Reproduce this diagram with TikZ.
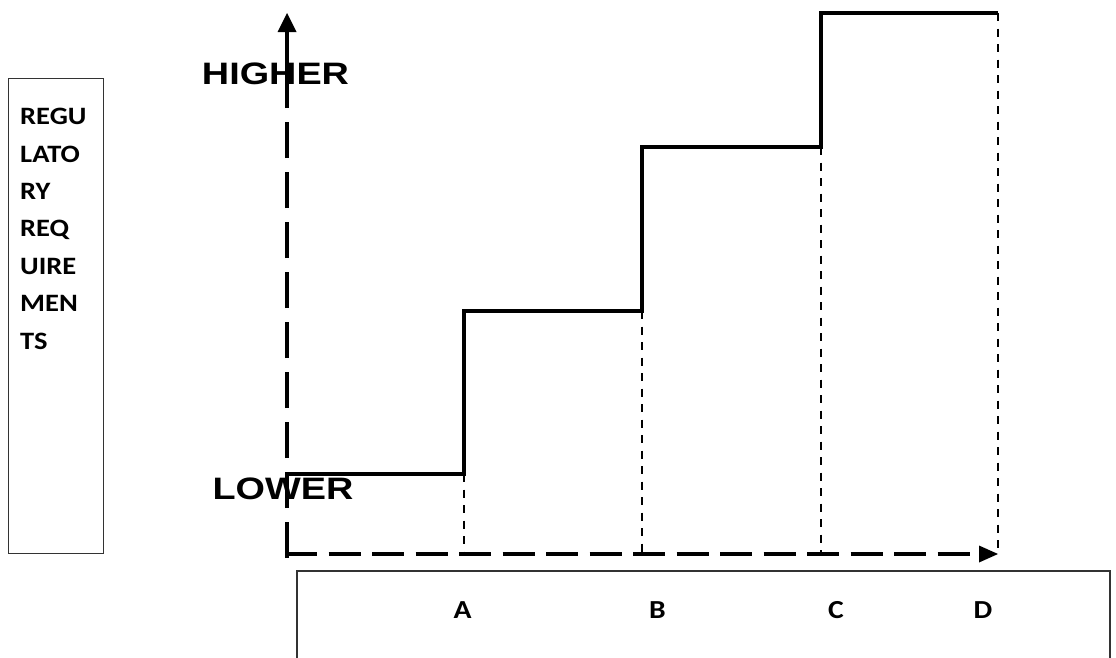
\documentclass[tikz,border=0pt]{standalone}
\usepackage{fontspec}
\setmainfont{Liberation Sans}
\newfontfamily\calfont{Carlito}
\tikzset{
  axisline/.style={line width=4pt, line cap=butt},
  stepline/.style={line width=4pt, line join=miter},
  guide/.style={line width=1.6pt, dash pattern=on 8pt off 7.5pt},
  frame/.style={draw=black!80, line width=1.1pt},
  levellabel/.style={inner sep=0pt, font=\fontsize{31}{31}\selectfont\bfseries},
  tick/.style={inner sep=0pt, anchor=base, font=\calfont\fontsize{26}{26}\selectfont\bfseries},
  sidetext/.style={inner sep=0pt, anchor=base west, font=\calfont\fontsize{25}{25}\selectfont\bfseries},
}
\newcommand{\wide}[1]{\scalebox{1.22}[1]{#1}}
\newcommand{\midwide}[1]{\scalebox{1.14}[1]{#1}}
\begin{document}
\begin{tikzpicture}[x=1pt, y=-1pt]
  \useasboundingbox (0,0) rectangle (1116,657);

  % key points
  \coordinate (ybot) at (287,558);
  \coordinate (ybreak) at (287,108);
  \coordinate (ytip) at (287,13);
  \coordinate (xstart) at (285,554);
  \coordinate (xend) at (975,554);
  \coordinate (xtip) at (998,554);

  \coordinate (s0) at (287,474);
  \coordinate (a1) at (464,474);
  \coordinate (a2) at (464,311);
  \coordinate (b1) at (642,311);
  \coordinate (b2) at (642,147);
  \coordinate (c1) at (821,147);
  \coordinate (c2) at (821,13);
  \coordinate (d1) at (998,13);

  \coordinate (a0) at (464,554);
  \coordinate (b0) at (642,554);
  \coordinate (c0) at (821,554);
  \coordinate (d0) at (998,548);

  % side box with the axis title
  \draw[frame, line width=1pt] (8,78) rectangle (103,553);
  \node[sidetext] (t1) at (20,124.5) {\midwide{REGU}};
  \node[sidetext] (t2) at (20,162) {\midwide{LATO}};
  \node[sidetext] (t3) at (20,199) {\midwide{RY}};
  \node[sidetext] (t4) at (20,236.5) {\midwide{REQ}};
  \node[sidetext] (t5) at (20,274) {\midwide{UIRE}};
  \node[sidetext] (t6) at (20,311.5) {\midwide{MEN}};
  \node[sidetext] (t7) at (20,349) {\midwide{TS}};

  % category box under the horizontal axis
  \draw[frame] (297,660) -- (297,571) -- (1110,571) -- (1110,660);
  \node[tick] (lA) at (462.5,618.5) {\midwide{A}};
  \node[tick] (lB) at (657.5,618.5) {\midwide{B}};
  \node[tick] (lC) at (836,618.5) {\midwide{C}};
  \node[tick] (lD) at (983,618.5) {\midwide{D}};

  % thin guides from each step down to the axis
  \draw[guide] (a1) -- (a0);
  \draw[guide] (b1) -- (b0);
  \draw[guide] (c1) -- (c0);
  \draw[guide] (d1) -- (d0);

  % vertical axis
  \draw[axisline, dash pattern=on 36pt off 14pt] (ybot) -- (ybreak);
  \draw[axisline] (ybreak) -- (287,30);
  \fill (ytip) -- (296.5,32) -- (277.5,32) -- cycle;

  % horizontal axis
  \draw[axisline, dash pattern=on 32pt off 11.5pt] (xstart) -- (xend);
  \fill (xtip) -- (979,545.5) -- (979,562.5) -- cycle;

  % staircase
  \draw[stepline] (s0) -- (a1) -- (a2) -- (b1) -- (b2) -- (c1) -- (c2) -- (d1);

  % level labels
  \node[levellabel] (hi) at (275.5,74) {\wide{HIGHER}};
  \node[levellabel] (lo) at (283,489) {\wide{LOWER}};
\end{tikzpicture}
\end{document}
